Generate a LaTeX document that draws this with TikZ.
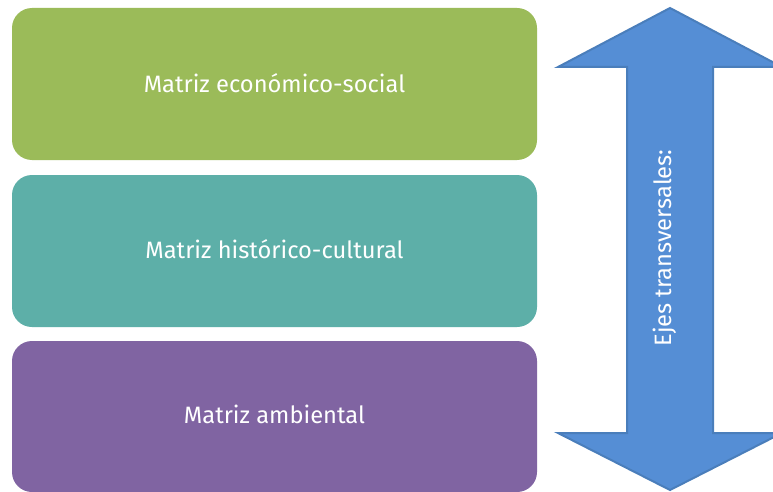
\documentclass[tikz,border=0pt]{standalone}
\usepackage{fontspec}
\setmainfont{Fira Sans}
\definecolor{cgreen}{HTML}{9BBB59}
\definecolor{cteal}{HTML}{5DAFA8}
\definecolor{cpurple}{HTML}{8064A2}
\definecolor{cblue}{HTML}{558ED5}
\definecolor{cblueb}{HTML}{4A7EBB}
\begin{document}
\begin{tikzpicture}[x=1pt,y=-1pt,
  lbl/.style={text=white, font=\fontsize{23.7}{27}\selectfont}]
\clip (0,0) rectangle (773,492);
\fill[white] (0,0) rectangle (773,492);
\fill[cgreen,rounded corners=20pt] (12,8) rectangle (537,160);
\node[lbl] (m1) at (274.5,83) {Matriz económico-social};
\fill[cteal,rounded corners=20pt] (12,175) rectangle (537,327);
\node[lbl] (m2) at (274.5,249) {Matriz histórico-cultural};
\fill[cpurple,rounded corners=20pt] (12,341) rectangle (537,492);
\node[lbl] (m3) at (274.5,414) {Matriz ambiental};
\draw[cblueb, fill=cblue, line width=2pt, line join=miter]
  (670,8) -- (782,67) -- (713,67) -- (713,433) -- (782,433) -- (670,490)
  -- (558,433) -- (627,433) -- (627,67) -- (558,67) -- cycle;
\node[lbl, rotate=90] (ejes) at (665,248) {Ejes transversales:};
\end{tikzpicture}
\end{document}
